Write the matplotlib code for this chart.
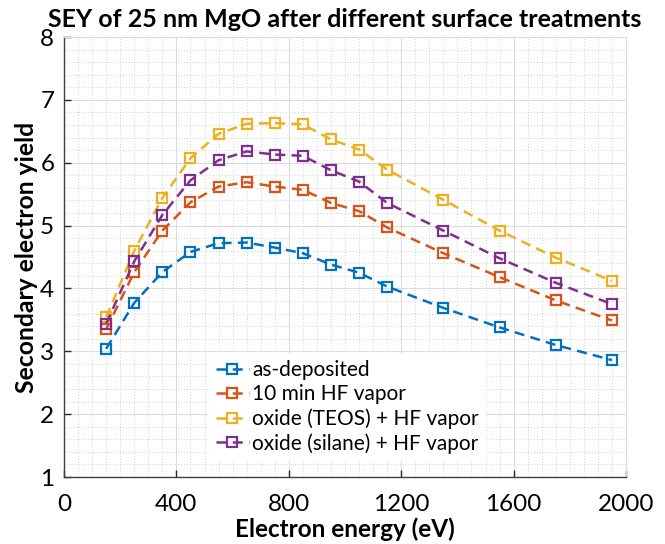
import matplotlib
matplotlib.use("Agg")
import matplotlib.pyplot as plt
from matplotlib.ticker import MultipleLocator

energy = [150, 250, 350, 450, 550, 650, 750, 850, 950, 1050, 1150, 1350, 1550, 1750, 1950]
as_deposited = [3.04, 3.77, 4.26, 4.58, 4.72, 4.73, 4.65, 4.56, 4.38, 4.25, 4.03, 3.69, 3.38, 3.10, 2.86]
hf_vapor = [3.35, 4.26, 4.92, 5.37, 5.62, 5.69, 5.62, 5.57, 5.36, 5.23, 4.97, 4.56, 4.18, 3.81, 3.49]
teos_hf = [3.54, 4.60, 5.44, 6.07, 6.46, 6.62, 6.63, 6.61, 6.37, 6.21, 5.89, 5.41, 4.92, 4.49, 4.12]
silane_hf = [3.44, 4.43, 5.17, 5.72, 6.04, 6.18, 6.13, 6.11, 5.88, 5.70, 5.36, 4.92, 4.48, 4.09, 3.75]

labels = ["as-deposited", "10 min HF vapor", "oxide (TEOS) + HF vapor", "oxide (silane) + HF vapor"]
colors = ["#0072BD", "#D95319", "#EDB120", "#7E2F8E"]
series = [as_deposited, hf_vapor, teos_hf, silane_hf]

xticks = [0, 400, 800, 1200, 1600, 2000]
yticks = [1, 2, 3, 4, 5, 6, 7, 8]

plt.rcParams['font.family'] = ['Lato', 'DejaVu Sans']

fig = plt.figure(figsize=(6.65, 5.44), dpi=100)
ax = fig.add_axes([64/665, 1-477/544, 562/665, 440/544])

for y, c, lab in zip(series, colors, labels):
    ax.plot(energy, y, linestyle=(0, (4, 2.5)), color=c, linewidth=1.8,
            marker='s', markersize=6.5, markerfacecolor='none', markeredgewidth=1.6,
            label=lab)

ax.set_xlim(0, 2000)
ax.set_ylim(1, 8)
ax.set_xticks(xticks)
ax.set_yticks(yticks)
ax.xaxis.set_minor_locator(MultipleLocator(50))
ax.yaxis.set_minor_locator(MultipleLocator(0.2))
ax.grid(which='major', color='#dcdcdc', linewidth=0.8, linestyle='-')
ax.grid(which='minor', color='#d0d0d0', linewidth=0.7, linestyle=(0, (1, 2)))
ax.set_axisbelow(True)
ax.tick_params(which='major', direction='in', length=5, width=1, labelsize=17.5, color='#262626')
ax.tick_params(axis='x', pad=12.5)
ax.tick_params(axis='y', pad=7)
ax.tick_params(which='minor', length=0)
for s in ['left', 'bottom']:
    ax.spines[s].set_color('#404040')
    ax.spines[s].set_linewidth(1.0)
for s in ['top', 'right']:
    ax.spines[s].set_color('#dcdcdc')
    ax.spines[s].set_linewidth(0.8)

ax.set_title("SEY of 25 nm MgO after different surface treatments", fontsize=18,
             fontweight='bold', pad=7)
ax.set_xlabel("Electron energy (eV)", fontsize=17.5, fontweight='bold', labelpad=1.5)
ax.set_ylabel("Secondary electron yield", fontsize=17.8, fontweight='bold')
ax.yaxis.set_label_coords(-0.047, 0.5)

leg = ax.legend(loc='lower left', bbox_to_anchor=(0.24, 0.015), fontsize=15,
                frameon=True, fancybox=False, edgecolor='white', facecolor='white',
                framealpha=1, handlelength=1.6, handletextpad=0.15, borderpad=0.3,
                labelspacing=0.2)

fig.savefig("out.png", dpi=100)
